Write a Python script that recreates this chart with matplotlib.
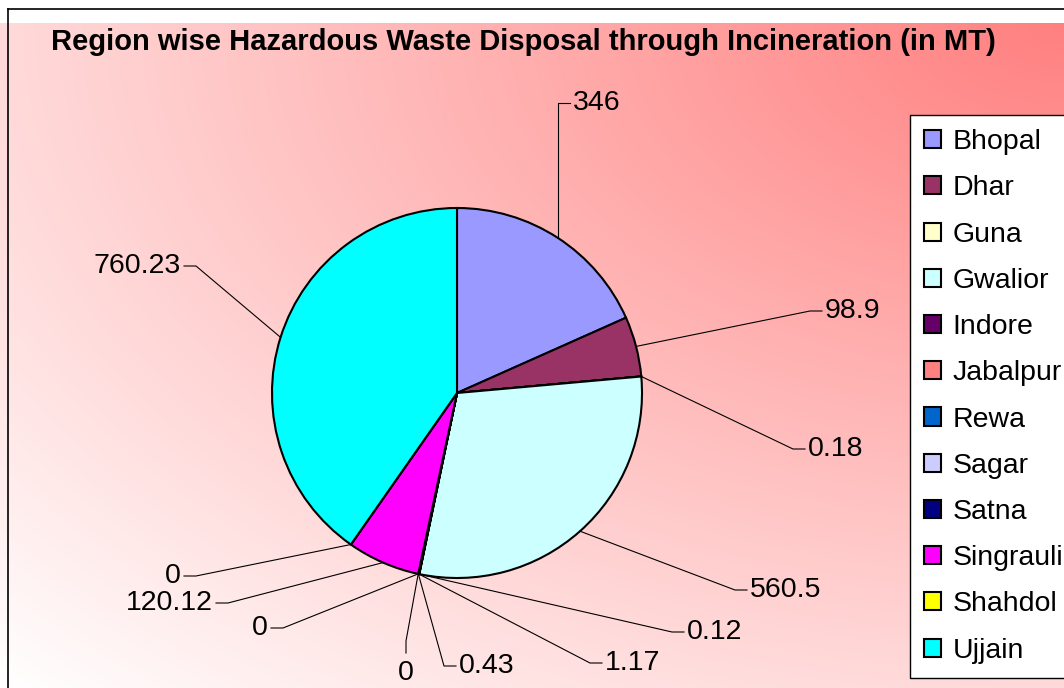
import numpy as np
import matplotlib
matplotlib.use('Agg')
import matplotlib.pyplot as plt
from matplotlib.lines import Line2D

plt.rcParams['font.family'] = ['Liberation Sans', 'DejaVu Sans']

regions = ['Bhopal', 'Dhar', 'Guna', 'Gwalior', 'Indore', 'Jabalpur', 'Rewa',
           'Sagar', 'Satna', 'Singrauli', 'Shahdol', 'Ujjain']
values = [346, 98.9, 0.18, 560.5, 0.12, 1.17, 0.43, 0, 0, 120.12, 0, 760.23]
value_labels = ['346', '98.9', '0.18', '560.5', '0.12', '1.17', '0.43',
                '0', '0', '120.12', '0', '760.23']
colors = ['#9999FF', '#993366', '#FFFFCC', '#CCFFFF', '#660066', '#FF8080',
          '#0066CC', '#CCCCFF', '#000080', '#FF00FF', '#FFFF00', '#00FFFF']

W, H = 1064, 688
fig = plt.figure(figsize=(W / 100, H / 100), dpi=100, facecolor='white')

# background gradient (red at top right fading to white at bottom left)
top = 23
bg = fig.add_axes([0, 0, 1, (H - top) / H])
gx, gy = np.meshgrid(np.linspace(0, 1, 400), np.linspace(0, 1, 300))
d = np.sqrt(((1 - gx) ** 2 + gy ** 2) / 2)
t = np.clip(1 - d, 0, 1)
img = np.ones((300, 400, 3))
img[..., 1] = 1 - t * (127 / 255)
img[..., 2] = 1 - t * (127 / 255)
bg.imshow(img, aspect='auto', extent=[0, 1, 0, 1], origin='upper')
bg.axis('off')

fig.add_artist(Line2D([8 / W, 1], [1 - 9 / H, 1 - 9 / H], color='black', lw=1.2,
                      transform=fig.transFigure))
fig.add_artist(Line2D([8 / W, 8 / W], [0, 1 - 9 / H], color='black', lw=1.2,
                      transform=fig.transFigure))

ax = fig.add_axes([0, 0, 1, 1])
ax.patch.set_alpha(0)
cx, cy, r = 457, H - 393, 185
wedges, _ = ax.pie(values, colors=colors, startangle=90, counterclock=False,
                   center=(cx, cy), radius=r, frame=True,
                   wedgeprops=dict(edgecolor='black', linewidth=1.5))
ax.set_xlim(0, W)
ax.set_ylim(0, H)
ax.set_aspect('equal')
ax.axis('off')

# label elbows (pixel, from top) and side of the text
elbows = [(None, 103, 'r'), (810, 311, 'r'), (793, 449, 'r'), (735, 590, 'r'),
          (672, 632, 'r'), (590, 663, 'r'), (444, 666, 'r'), (406, 641, 'd'),
          (283, 628, 'l'), (228, 603, 'l'), (196, 576, 'l'), (196, 266, 'l')]

fs = 20.5
for w, txt, (ex, ey, side) in zip(wedges, value_labels, elbows):
    th = np.deg2rad((w.theta1 + w.theta2) / 2)
    axp = cx + r * np.cos(th)
    ayp = cy + r * np.sin(th)
    if ex is None:
        ex = axp
    ey = H - ey
    if side == 'r':
        ax.plot([axp, ex, ex + 12], [ayp, ey, ey], color='black', lw=0.8)
        ax.text(ex + 15, ey, txt, ha='left', va='center', fontsize=fs)
    elif side == 'l':
        ax.plot([axp, ex, ex - 12], [ayp, ey, ey], color='black', lw=0.8)
        ax.text(ex - 15, ey, txt, ha='right', va='center', fontsize=fs)
    else:
        ax.plot([axp, ex, ex], [ayp, ey, ey - 12], color='black', lw=0.8)
        ax.text(ex, ey - 19, txt, ha='center', va='top', fontsize=fs)

fig.text(523 / W, 1 - 42 / H,
         'Region wise Hazardous Waste Disposal through Incineration (in MT)',
         ha='center', va='center', fontsize=21, fontweight='bold')

leg = ax.legend(wedges, regions, loc='upper left',
                bbox_to_anchor=(910 / W, 1 - 115 / H), bbox_transform=fig.transFigure,
                borderaxespad=0, fontsize=fs, frameon=True, fancybox=False,
                edgecolor='black', framealpha=1, handlelength=0.6, handleheight=0.6,
                handletextpad=0.4, labelspacing=0.71, borderpad=0.5)
leg.get_frame().set_linewidth(1.0)

fig.savefig('out.png', dpi=100)
